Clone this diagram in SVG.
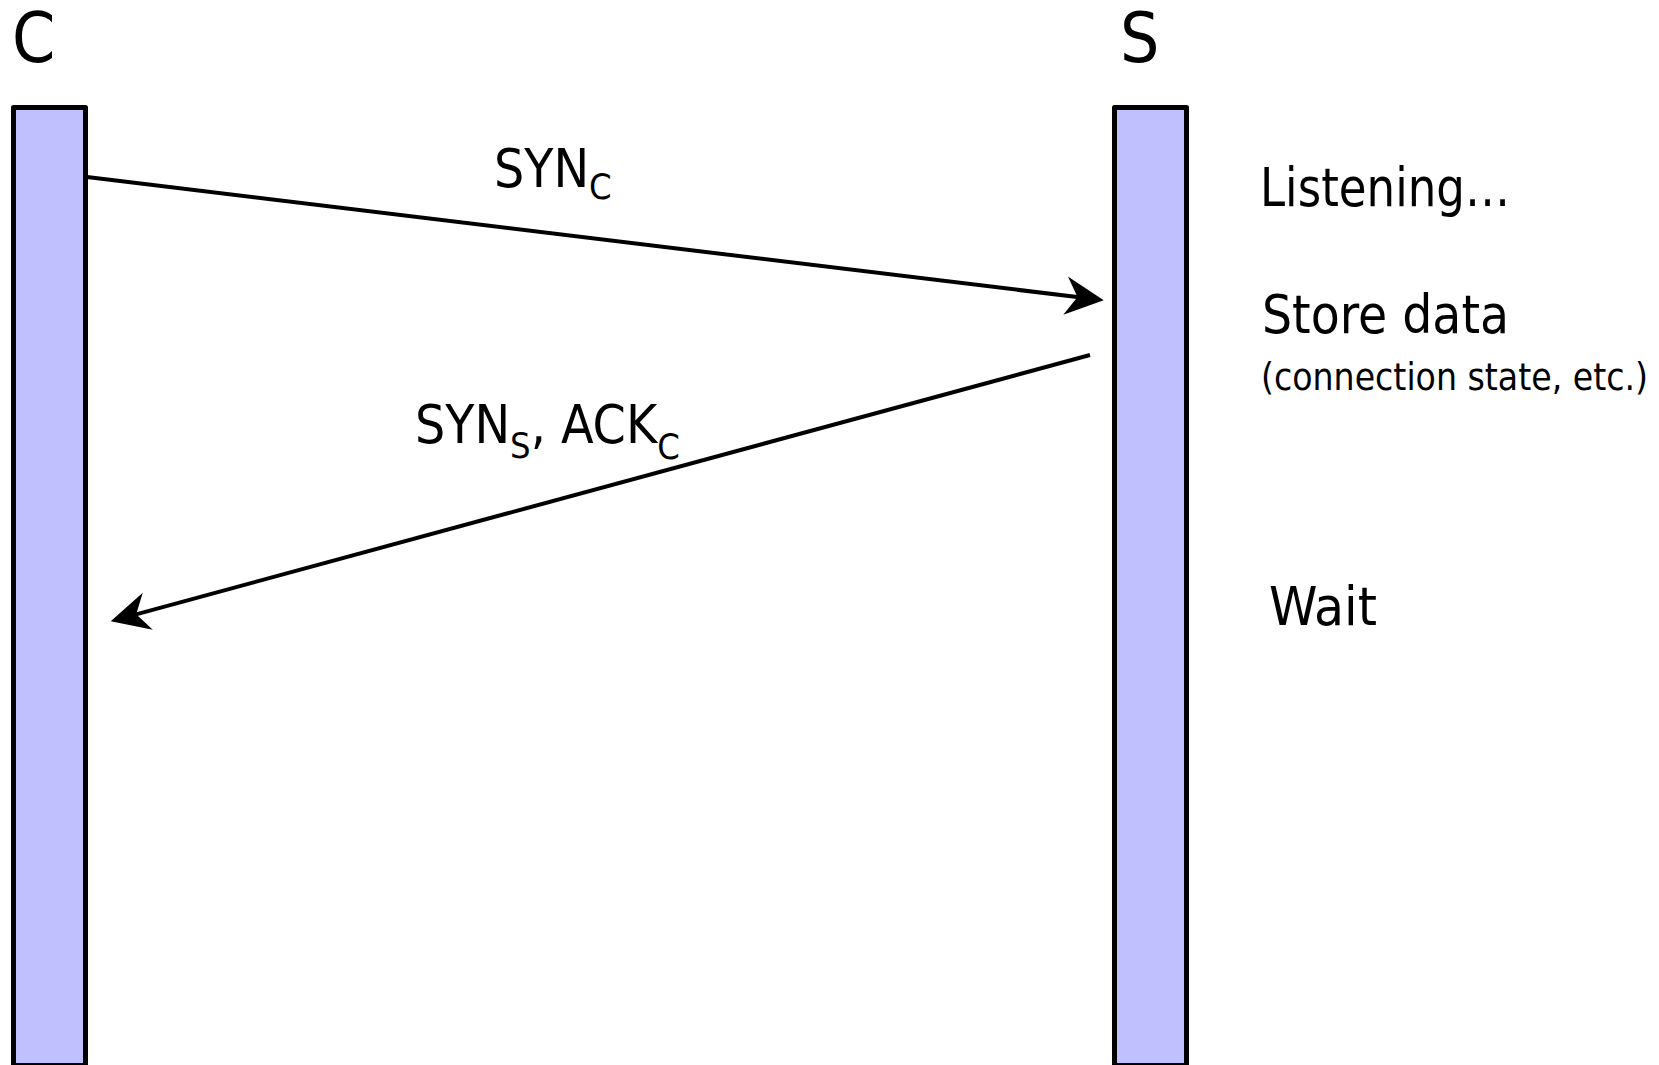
<svg xmlns="http://www.w3.org/2000/svg" width="1659" height="1065" viewBox="0 0 1659 1065">
<style>
  .bar { fill: #c0c0ff; stroke: #000; stroke-width: 5; stroke-linejoin: round; }
  .t { font-family: "DejaVu Sans Condensed", "DejaVu Sans", sans-serif; font-stretch: condensed; fill: #000; }
  .big { font-size: 69px; }
  .lbl { font-size: 53px; }
  .note { font-size: 54px; }
  .small { font-size: 37px; }
  .sub { font-size: 36px; }
  .conn { stroke: #000; stroke-width: 4; fill: none; marker-end: url(#arr); }
</style>
<defs>
  <marker id="arr" markerUnits="userSpaceOnUse" orient="auto" refX="0" refY="0" markerWidth="60" markerHeight="60" viewBox="-30 -20 50 40" overflow="visible">
    <path d="M10,0 L-22,-16 L-12,0 L-22,16 Z" fill="#000"/>
  </marker>
</defs>
<g id="node-C">
  <text class="t big" x="12" y="62">C</text>
  <rect class="bar" x="13.5" y="107.5" width="72" height="958"/>
</g>
<g id="node-S">
  <text class="t big" x="1120" y="62">S</text>
  <rect class="bar" x="1114.5" y="107.5" width="72" height="958"/>
</g>
<g id="connectors">
  <path class="conn" d="M87,177 L1091.8,298.8"/>
  <path class="conn" d="M1090,355 L122.3,618.1"/>
</g>
<g id="label-synC">
  <text class="t lbl" x="494" y="187">SYN<tspan class="sub" dy="12">C</tspan></text>
</g>
<g id="label-synS-ackC">
  <text class="t lbl" x="415" y="443">SYN<tspan class="sub" dy="15">S</tspan><tspan dy="-15">, ACK</tspan><tspan class="sub" dy="16">C</tspan></text>
</g>
<g id="state-listening">
  <text class="t note" x="1260" y="206" textLength="250" lengthAdjust="spacingAndGlyphs">Listening…</text>
</g>
<g id="state-store">
  <text class="t note" x="1262" y="333" textLength="247" lengthAdjust="spacingAndGlyphs">Store data</text>
  <text class="t small" x="1261" y="390" textLength="387" lengthAdjust="spacingAndGlyphs">(connection state, etc.)</text>
</g>
<g id="state-wait">
  <text class="t note" x="1269" y="625" textLength="108" lengthAdjust="spacingAndGlyphs">Wait</text>
</g>
</svg>
